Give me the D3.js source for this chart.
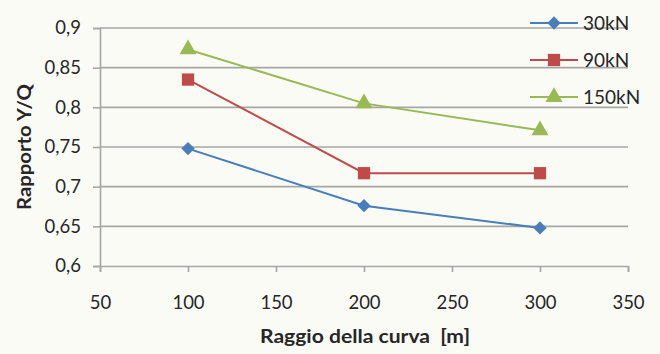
<!DOCTYPE html>
<html>
<head>
<meta charset="utf-8">
<script src="https://cdn.jsdelivr.net/npm/d3@7"></script>
<style>
  html, body { margin: 0; padding: 0; background: #fbfbf6; }
  svg { display: block; }
  text { font-family: Lato, "Open Sans", sans-serif; fill: #262626; }
</style>
</head>
<body>
<div id="chart"></div>
<script>
const radii = [100, 200, 300];
const series = ["30kN", "90kN", "150kN"];
const values30 = [0.748, 0.676, 0.648];
const values90 = [0.835, 0.717, 0.717];
const values150 = [0.873, 0.805, 0.771];
const colors = ["#4a7ebb", "#be4b48", "#98b954"];
const xTicks = [50, 100, 150, 200, 250, 300, 350];
const yTicks = [0.6, 0.65, 0.7, 0.75, 0.8, 0.85, 0.9];

const width = 660, height = 354;
const margin = { left: 100, right: 32, top: 28, bottom: 88 };

const svg = d3.select("#chart").append("svg")
    .attr("width", width)
    .attr("height", height);

const x = d3.scaleLinear().domain([50, 350]).range([margin.left, width - margin.right]);
const y = d3.scaleLinear().domain([0.6, 0.9]).range([height - margin.bottom, margin.top]);

const fmt = d => String(d).replace(".", ",");

// markers: diamond is a square turned 45deg
const markers = [
    { type: d3.symbolSquare, size: 88, rot: 45 },
    { type: d3.symbolSquare, size: 150, rot: 0 },
    { type: d3.symbolTriangle, size: 125, rot: 0 }
];

// gridlines
svg.append("g")
    .selectAll("line")
    .data(yTicks.slice(1))
    .join("line")
    .attr("x1", margin.left).attr("x2", width - margin.right)
    .attr("y1", d => y(d)).attr("y2", d => y(d))
    .attr("stroke", "#a6a6a6")
    .attr("stroke-width", 1.6);

const yAxis = svg.append("g")
    .attr("transform", `translate(${margin.left},0)`)
    .call(d3.axisLeft(y).tickValues(yTicks).tickFormat(fmt).tickSize(7).tickPadding(12));

const xAxis = svg.append("g")
    .attr("transform", `translate(0,${height - margin.bottom})`)
    .call(d3.axisBottom(x).tickValues(xTicks).tickSize(6).tickPadding(24));

[yAxis, xAxis].forEach(a => {
    a.select(".domain").attr("stroke", "#a6a6a6").attr("stroke-width", 1.6);
    a.selectAll(".tick line").attr("stroke", "#a6a6a6").attr("stroke-width", 1.6);
    a.selectAll(".tick text").attr("font-size", 18.5).attr("font-family", "Lato, sans-serif").attr("fill", "#333");
});

// axis titles
svg.append("text")
    .attr("transform", `translate(31,${(y(0.6) + y(0.9)) / 2}) rotate(-90)`)
    .attr("text-anchor", "middle")
    .attr("font-size", 18)
    .attr("font-weight", "bold")
    .attr("textLength", 126)
    .attr("lengthAdjust", "spacingAndGlyphs")
    .text("Rapporto Y/Q");

svg.append("text")
    .attr("x", 365)
    .attr("y", 343)
    .attr("text-anchor", "middle")
    .attr("font-size", 18)
    .attr("font-weight", "bold")
    .attr("textLength", 210)
    .attr("lengthAdjust", "spacingAndGlyphs")
    .style("white-space", "pre")
    .text("Raggio della curva  [m]");

// lines + markers
const allValues = [values30, values90, values150];
const line = d3.line().x((d, i) => x(radii[i])).y(d => y(d));

allValues.forEach((vals, s) => {
    const m = markers[s];
    svg.append("path")
        .datum(vals)
        .attr("fill", "none")
        .attr("stroke", colors[s])
        .attr("stroke-width", 2)
        .attr("d", line);
    svg.append("g")
        .selectAll("path")
        .data(vals)
        .join("path")
        .attr("transform", (d, i) => `translate(${x(radii[i])},${y(d)}) rotate(${m.rot})`)
        .attr("d", d3.symbol().type(m.type).size(m.size))
        .attr("fill", colors[s]);
});

// legend
const legend = svg.append("g");
series.forEach((name, s) => {
    const ly = 23 + s * 37;
    const m = markers[s];
    legend.append("line")
        .attr("x1", 530).attr("x2", 578)
        .attr("y1", ly).attr("y2", ly)
        .attr("stroke", colors[s]).attr("stroke-width", 2);
    legend.append("path")
        .attr("transform", `translate(554,${ly}) rotate(${m.rot})`)
        .attr("d", d3.symbol().type(m.type).size(m.size))
        .attr("fill", colors[s]);
    legend.append("text")
        .attr("x", 583).attr("y", ly)
        .attr("dy", "0.36em")
        .attr("font-size", 19)
        .text(name);
});
</script>
</body>
</html>
